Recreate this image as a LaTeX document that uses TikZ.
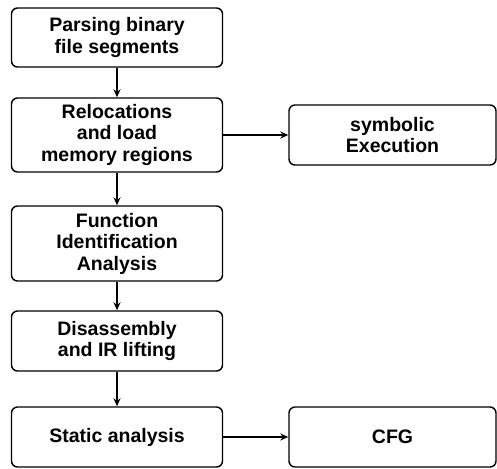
\documentclass[tikz,border=0pt]{standalone}
\usepackage{fontspec}
\setmainfont{Liberation Sans}
\usetikzlibrary{arrows.meta}
\begin{document}
\begin{tikzpicture}[x=1pt,y=-1pt,
  stage/.style={draw=black,line width=1.4pt,rounded corners=6pt,align=center,
    font=\fontsize{19.5}{21.5}\selectfont\bfseries,inner sep=0pt},
  leftbox/.style={stage,minimum width=211pt},
  rightbox/.style={stage,minimum width=207pt},
  flow/.style={-{Stealth[length=8pt,width=7pt]},line width=1.5pt}]
\path[use as bounding box] (0,0) rectangle (497,468);

\node[leftbox,minimum height=59pt] (parse) at (117, 37.5) {Parsing binary\\file segments};
\node[leftbox,minimum height=74pt] (reloc) at (117,135.0) {Relocations\\and load\\memory regions};
\node[leftbox,minimum height=75pt] (funcid) at (117,243.5) {Function\\Identification\\Analysis};
\node[leftbox,minimum height=60pt] (disasm) at (117,341.0) {Disassembly\\and IR lifting};
\node[leftbox,minimum height=60pt] (static) at (117,437.0) {Static analysis};

\node[rightbox,minimum height=60pt] (symex) at (392.5,135.0) {symbolic\\Execution};
\node[rightbox,minimum height=60pt] (cfg) at (392.5,437.0) {CFG};

\draw[flow] (parse) -- (reloc);
\draw[flow] (reloc) -- (funcid);
\draw[flow] (funcid) -- (disasm);
\draw[flow] (disasm) -- (static);
\draw[flow] (reloc) -- (symex);
\draw[flow] (static) -- (cfg);
\end{tikzpicture}
\end{document}
